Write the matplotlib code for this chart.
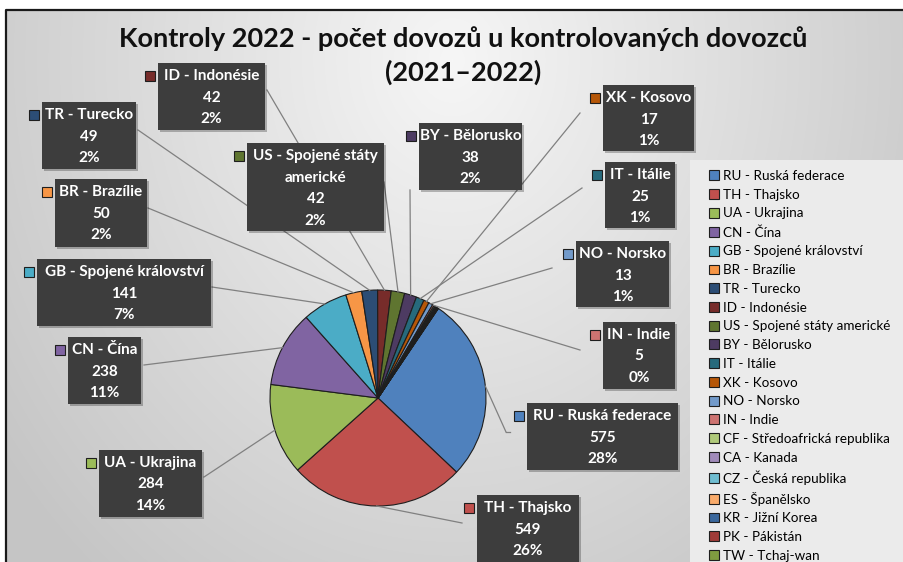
import numpy as np
import matplotlib
matplotlib.use("Agg")
import matplotlib.pyplot as plt
from matplotlib.patches import Rectangle

# data
codes = ["RU", "TH", "UA", "CN", "GB", "BR", "TR", "ID", "US", "BY", "IT",
         "XK", "NO", "IN", "CF", "CA", "CZ", "ES", "KR", "PK", "TW"]
names = ["Ruská federace", "Thajsko", "Ukrajina", "Čína", "Spojené království",
         "Brazílie", "Turecko", "Indonésie", "Spojené státy americké", "Bělorusko",
         "Itálie", "Kosovo", "Norsko", "Indie", "Středoafrická republika", "Kanada",
         "Česká republika", "Španělsko", "Jižní Korea", "Pákistán", "Tchaj-wan"]
values = [575, 549, 284, 238, 141, 50, 49, 42, 42, 38, 25,
          17, 13, 5, 4, 3, 3, 2, 2, 1, 1]
colors = ["#4F81BD", "#C0504D", "#9BBB59", "#8064A2", "#4BACC6", "#F79646",
          "#2C4D75", "#772C2A", "#5F7530", "#4D3B62", "#276A7C", "#B65708",
          "#729ACA", "#CD7371", "#AFC97A", "#A08AB9", "#6FBDD1", "#F9AB6B",
          "#3A679C", "#9F3B38", "#7F9C40"]

title1 = "Kontroly 2022 - počet dovozů u kontrolovaných dovozců"
title2 = "(2021–2022)"

# label layout in pixels (x0, y0, x1, y1) from top-left, and leader line end
boxes = {
    "RU": ((527, 403, 678, 470), (506, 432)),
    "TH": ((477, 495, 579, 562), (462, 523)),
    "UA": ((99, 450, 202, 517), (204, 477)),
    "CN": ((68, 337, 141, 404), (144, 365)),
    "GB": ((37, 259, 211, 326), (212, 287)),
    "BR": ((55, 179, 147, 247), (148, 208)),
    "TR": ((42, 102, 136, 169), (138, 130)),
    "ID": ((158, 63, 265, 130), (267, 90)),
    "US": ((247, 143, 384, 231), (384, 182)),
    "BY": ((419, 123, 522, 190), (410, 190)),
    "IT": ((605, 162, 675, 228), (582, 188)),
    "XK": ((603, 85, 694, 151), (580, 113)),
    "NO": ((576, 241, 669, 307), (552, 268)),
    "IN": ((603, 322, 675, 389), (580, 350)),
}

W, H = 904, 562
FONT = ["Lato", "DejaVu Sans"]
plt.rcParams["font.family"] = FONT

fig = plt.figure(figsize=(9.04, 5.62), dpi=100)
ax = fig.add_axes([0, 0, 1, 1])

# background gradient
xx, yy = np.meshgrid(np.arange(W), np.arange(H))
d = np.sqrt(((xx - 452) / 470.0) ** 2 + ((yy - 60) / 560.0) ** 2)
g = 0.965 - 0.16 * np.clip(d, 0, 1.2)
ax.imshow(np.dstack([g, g, g]), extent=(0, W, 0, H), origin="upper", zorder=0)
ax.add_patch(Rectangle((0, H - 10), W, 10, facecolor="white", edgecolor="none", zorder=0.5))
ax.add_patch(Rectangle((0, 0), 6, H, facecolor="white", edgecolor="none", zorder=0.5))
ax.plot([6, 6, W], [0, H - 10, H - 10], color="#1a1a1a", lw=1.6, zorder=0.6)

# legend panel
ax.add_patch(Rectangle((690, 0), W - 690, H - 160, facecolor="#ebebeb",
                       edgecolor="none", zorder=1))

cx, cy, r = 378, H - 398, 108
wedges, _ = ax.pie(values, colors=colors, startangle=56, counterclock=False,
                   center=(cx, cy), radius=r, frame=True,
                   wedgeprops=dict(edgecolor="#1e1e1e", linewidth=0.8, zorder=2))

total = sum(values)
for i, code in enumerate(codes):
    if code not in boxes:
        continue
    (x0, y0, x1, y1), (lx, ly) = boxes[code]
    w = wedges[i]
    mid = np.deg2rad((w.theta1 + w.theta2) / 2)
    px, py = cx + r * np.cos(mid), cy + r * np.sin(mid)
    ax.plot([px, lx], [py, H - ly], color="#808080", lw=0.9, zorder=3)
    if code == "RU":
        ax.plot([lx, lx + 4], [H - ly, H - ly], color="#808080", lw=0.9, zorder=3)

    ax.add_patch(Rectangle((x0 + 2, H - y1 - 2), x1 - x0, y1 - y0,
                           facecolor="black", alpha=0.25, edgecolor="none", zorder=4))
    ax.add_patch(Rectangle((x0, H - y1), x1 - x0, y1 - y0,
                           facecolor="#3d3d3d", edgecolor="none", zorder=5))
    if code == "US":
        lines = ["US - Spojené státy", "americké"]
    else:
        lines = [f"{code} - {names[i]}"]
    lines += [str(values[i]), f"{round(100 * values[i] / total)}%"]
    for k, t in enumerate(lines):
        ax.text((x0 + x1) / 2, H - (y0 + 13 + 21.5 * k), t, ha="center", va="center",
                color="white", fontsize=11, fontweight="bold", zorder=6)
    ax.add_patch(Rectangle((x0 - 13, H - (y0 + 13) - 5), 10, 10, facecolor=w.get_facecolor(),
                           edgecolor="#1e1e1e", lw=0.8, zorder=6))

ax.text(463, H - 47, title1, ha="center", va="baseline", fontsize=19.5,
        fontweight="bold", color="#111111", zorder=7)
ax.text(463, H - 81, title2, ha="center", va="baseline", fontsize=19.5,
        fontweight="bold", color="#111111", zorder=7)

leg = ax.legend(wedges, [f"{c} - {n}" for c, n in zip(codes, names)],
                loc="upper left", bbox_to_anchor=(709 / W, 1 - 170 / H),
                bbox_transform=fig.transFigure, fontsize=9.7, frameon=False,
                handlelength=0.75, handleheight=0.75,
                handletextpad=0.3, labelspacing=0.5, borderpad=0,
                borderaxespad=0)
leg.set_zorder(8)

ax.set_xlim(0, W)
ax.set_ylim(0, H)
ax.axis("off")

fig.savefig("out.png", dpi=100)
